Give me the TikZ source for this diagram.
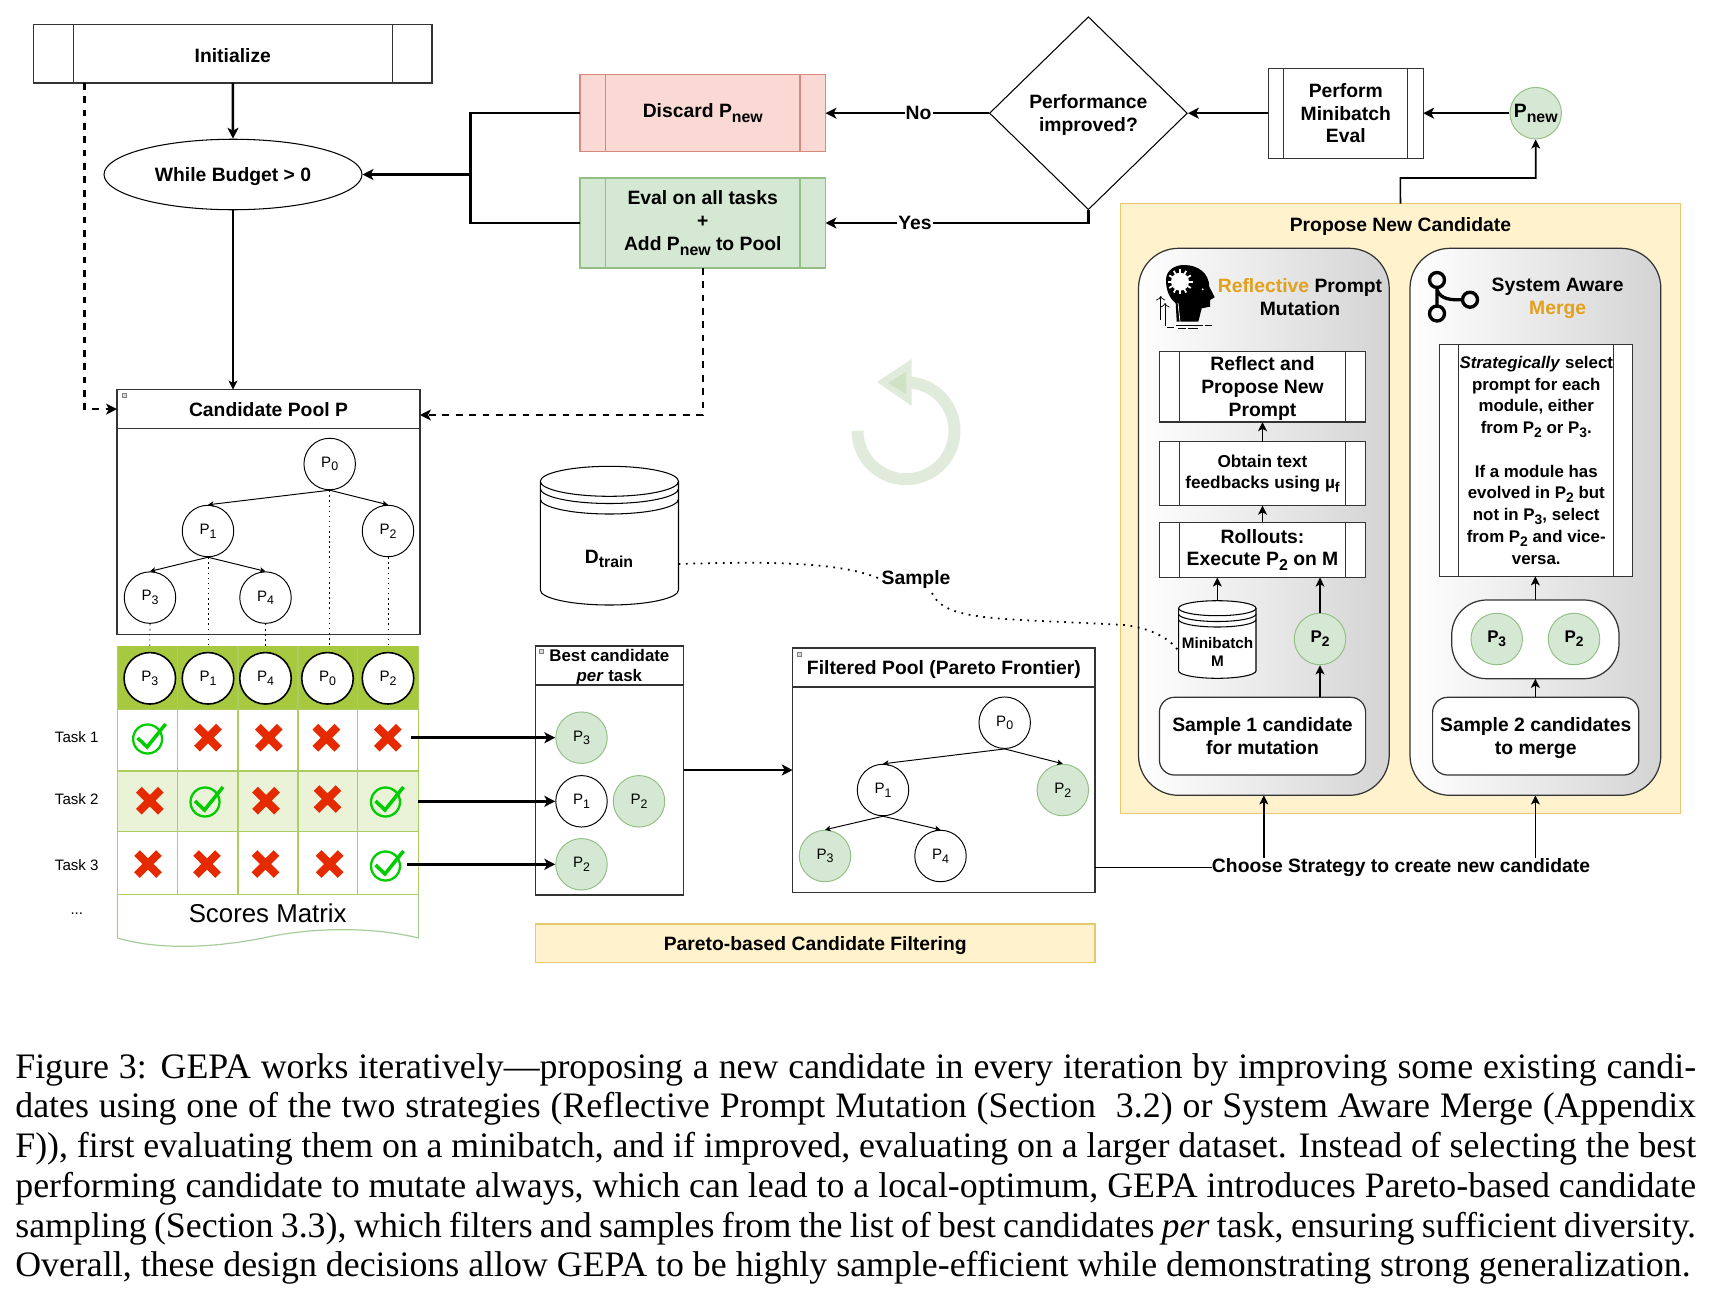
\documentclass[tikz,border=0pt]{standalone}
\usepackage{amsmath}
\usepackage{xcolor}
\usepackage{fontspec}
\setmainfont{Liberation Serif}
\setsansfont{Liberation Sans}
\usepackage{tikz}
\usetikzlibrary{shapes.geometric}
\usetikzlibrary{arrows.meta}
\usetikzlibrary{shapes}

\definecolor{redfill}{HTML}{FAD9D5}
\definecolor{redline}{HTML}{D98880}
\definecolor{greenfill}{HTML}{D5E8D4}
\definecolor{greenline}{HTML}{93BF85}
\definecolor{yellowfill}{HTML}{FFF2CC}
\definecolor{yellowline}{HTML}{E8C76E}
\definecolor{matrixhead}{HTML}{A6C93F}
\definecolor{matrixline}{HTML}{ABCD62}
\definecolor{matrixrow}{HTML}{EAF2D8}
\definecolor{crossred}{HTML}{E62A00}
\definecolor{checkgreen}{HTML}{00CC00}
\definecolor{orangeword}{HTML}{E3A01B}
\definecolor{loopgreen}{HTML}{E1EBDC}
\definecolor{loopdark}{HTML}{CFE2C4}
\definecolor{boxline}{HTML}{333333}

\newcommand{\boldfont}{\sffamily\bfseries\fontsize{11}{13}\selectfont}
\newcommand{\midfont}{\sffamily\bfseries\fontsize{9.6}{12.4}\selectfont}
\newcommand{\plainfont}{\sffamily\fontsize{8.6}{10}\selectfont}
\newcommand{\subs}[1]{\raisebox{-0.45ex}{\scalebox{0.82}{#1}}}

\tikzset{
    box/.style 2 args = {rectangle, minimum width = #1*0.02cm, minimum height = #2*0.02cm,
        inner sep = 0pt, outer sep = 0pt, align = center, font = \boldfont},
    framed/.style = {draw = boxline, line width = 0.7pt},
    procbox/.style 2 args = {draw = #2, line width = 0.7pt, path picture = {
        \draw[#2, line width = 0.6pt]
            ([xshift = #1*0.02cm]path picture bounding box.north west)
            -- ([xshift = #1*0.02cm]path picture bounding box.south west)
            ([xshift = -#1*0.02cm]path picture bounding box.north east)
            -- ([xshift = -#1*0.02cm]path picture bounding box.south east);}},
    cand/.style = {circle, draw = black, fill = white, line width = 0.55pt, minimum size = 1.03cm,
        inner sep = 0pt, font = \plainfont},
    candgreen/.style = {cand, draw = greenline, fill = greenfill},
    candbold/.style = {candgreen, font = \midfont},
    flow/.style = {line width = 1.4pt, -{Stealth[length = 6.2pt, width = 6.2pt, inset = 1.6pt]}},
    plainflow/.style = {line width = 1.4pt},
    thinflow/.style = {line width = 0.9pt, -{Stealth[length = 5.2pt, width = 5pt, inset = 1.3pt]}},
    treeedge/.style = {line width = 0.55pt, -{Stealth[length = 3.2pt, width = 3.2pt, inset = 0.8pt]}},
    dashflow/.style = {line width = 1.4pt, dash pattern = on 3.8pt off 3.8pt,
        -{Stealth[length = 6.2pt, width = 6.2pt, inset = 1.6pt]}},
    droptree/.style = {line width = 0.35pt, dash pattern = on 0.9pt off 2pt},
    dotlink/.style = {line width = 1pt, dash pattern = on 1pt off 3.2pt},
    tinyicon/.style = {rectangle, draw = gray, fill = gray!30, line width = 0.3pt, minimum size = 0.08cm,
        inner sep = 0pt},
    textlabel/.style = {inner sep = 0.5pt, font = \boldfont, fill = white},
    crossmark/.pic = {
        \draw[crossred, line width = 4.6pt] (-11, -11) -- (11, 11) (-11, 11) -- (11, -11);
    },
    checkmark/.pic = {
        \draw[checkgreen, line width = 1.3pt] (0, 0) circle(14.5);
        \draw[checkgreen, line width = 2pt] (-10, -1) -- (-0.5, 8) -- (18, -15);
    },
}

\begin{document}
\begin{tikzpicture}[x = 0.02cm, y = -0.02cm]
        \useasboundingbox (0, 0) rectangle (1710, 1298);

        \draw[loopgreen, line width = 6.8pt] (857.5, 430.7) arc (180:-90:48.5);
        \fill[loopgreen] (877, 382) -- (911.7, 359) -- (911.7, 406) -- cycle;
        \fill[loopdark] (888, 383) -- (906, 372) -- (906, 394) -- cycle;

        \node[box = {398.5}{58.6}, procbox = {40}{boxline}, text height = 10pt] (init) at (232.8, 53.7) {Initialize};
        \node[ellipse, draw = black, line width = 0.6pt, minimum width = 5.16cm, minimum height = 1.41cm,
            inner sep = 0pt, font = \boldfont, text depth = 0pt] (budget) at (233, 174.5) {While Budget > 0};
        \node[box = {245.5}{77}, fill = redfill, procbox = {25.5}{redline}] (discard) at (702.75, 113.2)
            {Discard P\subs{new}};
        \node[box = {245.5}{90}, fill = greenfill, procbox = {25.5}{greenline}] (evalall) at (702.75, 223)
            {Eval on all tasks\\+\\Add P\subs{new} to Pool};
        \node[diamond, draw = black, line width = 0.6pt, minimum width = 3.96cm, minimum height = 3.86cm,
            inner sep = 0pt, aspect = 1, font = \boldfont, align = center, text depth = 0pt] (improved)
            at (1088.4, 113.2) {Performance\\improved?};
        \node[box = {154.7}{90}, procbox = {15.5}{boxline}] (minieval) at (1345.8, 113.2)
            {Perform\\Minibatch\\Eval};
        \node[candgreen, font = \boldfont] (pnew) at (1535.7, 113.2) {P\subs{new}};
        \node[textlabel] (nolabel) at (918.6, 113.2) {No};
        \node[textlabel] (yeslabel) at (915, 223) {Yes};
        \coordinate (joinback) at (470.6, 174.5);

        \node[box = {303}{38.8}, framed] (poolhead) at (268.5, 409.1) {Candidate Pool P};
        \node[box = {303}{205.8}, framed] (poolbody) at (268.5, 531.4) {};
        \node[tinyicon] (poolicon) at (124, 395.6) {};
        \coordinate (initout) at (84.5, 83);
        \coordinate (poolin) at (420, 415);

        \draw[flow] (init.south) -- (budget.north);
        \draw[thinflow] (budget.south) -- (poolhead.north -| budget.south);
        \draw[plainflow] (discard.west) -| (joinback);
        \draw[plainflow] (evalall.west) -| (joinback);
        \draw[flow] (joinback) -- (budget.east);
        \draw[dashflow] (initout) |- (poolhead.west);
        \draw[dashflow] (evalall.south) |- (poolin);
        \draw[plainflow] (improved.west) -- (nolabel);
        \draw[flow] (nolabel) -- (discard.east);
        \draw[plainflow] (improved.south) |- (yeslabel);
        \draw[flow] (yeslabel) -- (evalall.east);
        \draw[flow] (minieval.west) -- (improved.east);
        \draw[flow] (pnew.west) -- (minieval.east);

        \node[cand] (poolp0) at (329.7, 464) {P\subs{0}};
        \node[cand] (poolp1) at (208, 531) {P\subs{1}};
        \node[cand] (poolp2) at (388, 531) {P\subs{2}};
        \node[cand] (poolp3) at (150, 597.6) {P\subs{3}};
        \node[cand] (poolp4) at (265.5, 597.6) {P\subs{4}};
        \draw[treeedge] (poolp0.south) -- (poolp1.north);
        \draw[treeedge] (poolp0.south) -- (poolp2.north);
        \draw[treeedge] (poolp1.south) -- (poolp3.north);
        \draw[treeedge] (poolp1.south) -- (poolp4.north);

        \fill[matrixhead] (117.4, 646) rectangle (418.5, 709.7);
        \fill[matrixrow] (117.4, 771) rectangle (418.5, 831.7);
        \foreach \xcol in {117.4, 177.7, 238, 298, 357.7, 418.5}
            \draw[matrixline, line width = 0.7pt] (\xcol, 646) -- (\xcol, 894.3);
        \foreach \yrow in {709.7, 771, 831.7, 894.3}
            \draw[matrixline, line width = 0.7pt] (117.4, \yrow) -- (418.5, \yrow);

        \node[cand, line width = 0.9pt] (matp3) at (149.8, 678.3) {P\subs{3}};
        \node[cand, line width = 0.9pt] (matp1) at (208, 678.3) {P\subs{1}};
        \node[cand, line width = 0.9pt] (matp4) at (265.5, 678.3) {P\subs{4}};
        \node[cand, line width = 0.9pt] (matp0) at (327.5, 678.3) {P\subs{0}};
        \node[cand, line width = 0.9pt] (matp2) at (388, 678.3) {P\subs{2}};

        \draw[droptree] (poolp3.south) -- (matp3.north |- 0, 646);
        \draw[droptree] (poolp1.south) -- (matp1.north |- 0, 646);
        \draw[droptree] (poolp4.south) -- (matp4.north |- 0, 646);
        \draw[droptree] (poolp0.south) -- (poolp0.south |- 0, 646);
        \draw[droptree] (poolp2.south) -- (matp2.north |- 0, 646);

        \foreach \xpos/\ypos in {208/737.7, 268.8/737.7, 326.4/737.7, 387.8/737.7, 149.8/800.7,
            266/800.7, 327.5/799, 148/864, 207/864, 265.5/864, 329.7/864}
            \pic at (\xpos, \ypos) {crossmark};
        \foreach \xpos/\ypos in {147.6/739, 205/802, 385.5/802, 385.5/866}
            \pic at (\xpos, \ypos) {checkmark};

        \node[font = \plainfont] (task1) at (76.8, 736.7) {Task 1};
        \node[font = \plainfont] (task2) at (76.8, 798.7) {Task 2};
        \node[font = \plainfont] (task3) at (76.8, 865) {Task 3};
        \node[font = \plainfont] (taskmore) at (76.8, 914) {...};

        \draw[greenline!80, line width = 0.7pt] (117.4, 894.3) -- (117.4, 938)
            .. controls (165, 952) and (225, 946) .. (268, 937)
            .. controls (310, 928) and (370, 926) .. (418.5, 938) -- (418.5, 894.3);
        \node[font = \sffamily\fontsize{14.7}{17}\selectfont] (scores) at (267.7, 913.7) {Scores Matrix};

        \node[box = {148.1}{39}, framed, font = \sffamily\bfseries\fontsize{9.6}{11.7}\selectfont, text depth = 0pt]
            (besthead) at (609.4, 665.5) {Best candidate\\\textit{per} task};
        \node[box = {148.1}{210}, framed] (bestbody) at (609.4, 790) {};
        \node[tinyicon] (besticon) at (541.5, 651) {};
        \node[candgreen] (bestp3) at (581.5, 737.7) {P\subs{3}};
        \node[cand] (bestp1) at (581.5, 801.3) {P\subs{1}};
        \node[candgreen] (bestp2a) at (639, 801.3) {P\subs{2}};
        \node[candgreen] (bestp2b) at (581.5, 864.3) {P\subs{2}};

        \node[box = {302.3}{39}, framed, text depth = 0pt] (filthead) at (943.85, 667.5)
            {Filtered Pool (Pareto Frontier)};
        \node[box = {302.3}{205.7}, framed] (filtbody) at (943.85, 789.85) {};
        \node[tinyicon] (filticon) at (799, 654) {};
        \node[cand] (filtp0) at (1004.7, 722.7) {P\subs{0}};
        \node[cand] (filtp1) at (883, 790) {P\subs{1}};
        \node[candgreen] (filtp2) at (1062.8, 790) {P\subs{2}};
        \node[candgreen] (filtp3) at (825, 856) {P\subs{3}};
        \node[cand] (filtp4) at (940.5, 856) {P\subs{4}};
        \draw[treeedge] (filtp0.south) -- (filtp1.north);
        \draw[treeedge] (filtp0.south) -- (filtp2.north);
        \draw[treeedge] (filtp1.south) -- (filtp3.north);
        \draw[treeedge] (filtp1.south) -- (filtp4.north);

        \coordinate (row1out) at (411, 737.7);
        \coordinate (row2out) at (418, 801.3);
        \coordinate (row3out) at (407, 864.3);
        \coordinate (bestout) at (683.5, 770);
        \draw[flow] (row1out) -- (bestp3.west);
        \draw[flow] (row2out) -- (bestp1.west);
        \draw[flow] (row3out) -- (bestp2b.west);
        \draw[flow] (bestout) -- (bestout -| filtbody.west);

        \node[box = {559.6}{38.7}, draw = yellowline, fill = yellowfill, line width = 0.7pt, text depth = 0pt]
            (paretoband) at (815.2, 943.4) {Pareto-based Candidate Filtering};

        \node[box = {138.2}{138.7}] (dtrain) at (609.4, 535.6) {};
        \draw[black, line width = 0.6pt] (540.3, 481.3) arc (180:360:69.1 and 15) -- (678.5, 590)
            arc (0:180:69.1 and 15) -- cycle
            (540.3, 481.3) arc (180:0:69.1 and 15)
            (540.3, 488.5) arc (180:0:69.1 and 15)
            (540.3, 499) arc (180:0:69.1 and 15);
        \node[font = \boldfont] (dtrainlabel) at (609, 559) {D\subs{train}};

        \node[box = {560.1}{610}, draw = yellowline, fill = yellowfill, line width = 0.7pt] (propose)
            at (1400.45, 508.7) {};
        \node[font = \boldfont] (proposetitle) at (1400.4, 226.5) {Propose New Candidate};
        \coordinate (pnewturn) at (1400.4, 178);
        \draw[thinflow] (propose.north) -- (pnewturn) -| (pnew.south);

        \node[box = {250.7}{547}, draw = boxline, line width = 0.7pt, rounded corners = 0.8cm,
            left color = white, right color = black!17] (mutpanel) at (1263.85, 521.8) {};
        \node[box = {250.8}{547}, draw = boxline, line width = 0.7pt, rounded corners = 0.8cm,
            left color = white, right color = black!17] (mergepanel) at (1535.4, 521.8) {};

        \fill[black] (1176.7, 321.7) -- (1175.7, 303.3) .. controls (1168, 297) and (1166, 288) .. (1166, 280)
            .. controls (1166, 270) and (1175, 265) .. (1184, 265)
            .. controls (1198, 265) and (1209, 273) .. (1209.3, 286.7)
            -- (1214.7, 297.3) -- (1210, 300) -- (1210, 306.7) -- (1201.7, 308.3) -- (1198.3, 321.7) -- cycle;
        \fill[white] (1180, 281.7) circle(9);
        \foreach \angle in {0, 30, ..., 330}
            \draw[white, line width = 1pt] (1180, 281.7) -- +(\angle:12.5);
        \fill[white] (1202.7, 289.3) circle(1);
        \draw[white, line width = 0.4pt] (1178, 303) -- (1180, 322);
        \draw[black, line width = 0.4pt, ->] (1160.7, 320) -- (1160.7, 296);
        \draw[black, line width = 0.4pt, ->] (1165, 326) -- (1165, 303);
        \draw[black, line width = 0.5pt] (1167, 327) -- (1174, 327) (1176, 325) -- (1203, 325)
            (1178, 328) -- (1186, 328) (1188, 328) -- (1198, 328) (1205, 325) -- (1212, 325);

        \node[font = \boldfont, align = center, inner sep = 0pt] (mutlabel) at (1300, 297.5)
            {\textcolor{orangeword}{Reflective} Prompt\\Mutation};
        \node[font = \boldfont, align = center, inner sep = 0pt] (mergelabel) at (1557.6, 298.5)
            {System Aware\\\textcolor{orangeword}{Merge}};

        \draw[black, line width = 1.9pt] (1437, 280) circle(7.5) (1470, 299.7) circle(7.5) (1437, 313.5) circle(7.5);
        \draw[black, line width = 1.9pt] (1437, 287.5) -- (1437, 306) (1437, 290)
            .. controls (1441, 300) and (1452, 300) .. (1462.5, 299.7);

        \node[box = {206.2}{70.6}, fill = white, procbox = {20.3}{boxline}, text depth = 0pt] (reflect)
            at (1262.5, 386.7) {Reflect and\\Propose New\\Prompt};
        \node[box = {206.2}{64}, fill = white, procbox = {20.3}{boxline},
            font = \sffamily\bfseries\fontsize{9.8}{12}\selectfont] (textfb) at (1262.5, 473.5)
            {Obtain text\\feedbacks using µ\subs{f}};
        \node[box = {206.2}{55.1}, fill = white, procbox = {20.3}{boxline}] (rollouts) at (1262.5, 549.85)
            {Rollouts:\\Execute P\subs{2} on M};
        \node[box = {193.1}{231.9}, fill = white, procbox = {19.2}{boxline}, font = \midfont] (strategy)
            at (1536.25, 460.25)
            {\textit{Strategically} select\\prompt for each\\module, either\\from P\subs{2} or P\subs{3}.\\
            ~\\If a module has\\evolved in P\subs{2} but\\not in P\subs{3}, select\\
            from P\subs{2} and vice-\\versa.};

        \node[box = {77.4}{77.6}] (minibatch) at (1217.3, 639.5) {};
        \draw[black, line width = 0.6pt, fill = white] (1178.6, 608.2) arc (180:360:38.7 and 7.5) -- (1256, 670.8)
            arc (0:180:38.7 and 7.5) -- cycle;
        \draw[black, line width = 0.6pt] (1178.6, 608.2) arc (180:0:38.7 and 7.5)
            (1178.6, 614) arc (180:0:38.7 and 7.5)
            (1178.6, 619.5) arc (180:0:38.7 and 7.5);
        \node[font = \sffamily\bfseries\fontsize{8.7}{10.2}\selectfont, align = center] (minilabel)
            at (1217.5, 651.7) {Minibatch\\M};

        \node[candbold] (mutp2) at (1320, 639) {P\subs{2}};
        \node[box = {167.3}{78.7}, draw = boxline, fill = white, line width = 0.7pt, rounded corners = 0.7cm]
            (mergepair) at (1535.35, 639.35) {};
        \node[candbold] (mergep3) at (1496.7, 639) {P\subs{3}};
        \node[candbold] (mergep2) at (1574, 639) {P\subs{2}};
        \node[box = {206.2}{77.7}, framed, fill = white, rounded corners = 0.3cm, text depth = 0pt] (sampleone)
            at (1262.5, 736.15) {Sample 1 candidate\\for mutation};
        \node[box = {206.2}{77.7}, framed, fill = white, rounded corners = 0.3cm, text depth = 0pt] (sampletwo)
            at (1535.7, 736.15) {Sample 2 candidates\\to merge};

        \draw[thinflow] (textfb.north) -- (reflect.south);
        \draw[thinflow] (rollouts.north) -- (textfb.south);
        \draw[thinflow] (minibatch.north) -- (minibatch.north |- rollouts.south);
        \draw[thinflow] (mutp2.north) -- (mutp2.north |- rollouts.south);
        \draw[thinflow] (sampleone.north -| mutp2.south) -- (mutp2.south);
        \draw[thinflow] (mergepair.north) -- (strategy.south -| mergepair.north);
        \draw[thinflow] (sampletwo.north -| mergepair.south) -- (mergepair.south);

        \node[font = \boldfont, inner sep = 0pt] (choose) at (1401, 867.5) {Choose Strategy to create new candidate};
        \draw[plainflow, line width = 1.1pt] (filtbody.east |- choose.west) -- (choose.west);
        \draw[thinflow] (mutpanel.south |- choose.north) -- (mutpanel.south);
        \draw[thinflow] (mergepanel.south |- choose.north) -- (mergepanel.south);

        \node[font = \boldfont, inner sep = 0pt] (sample) at (916, 579.5) {Sample};
        \coordinate (dtrainout) at (678.5, 564);
        \coordinate (sampleout) at (932, 593);
        \coordinate (miniin) at (1179, 651.7);
        \draw[dotlink] (dtrainout) .. controls (750, 562) and (840, 560) .. (sample.west);
        \draw[dotlink] (sampleout) .. controls (945, 622) and (1000, 618) .. (1124, 625)
            .. controls (1150, 628) and (1170, 638) .. (miniin);

        \node[anchor = north west, inner sep = 0pt, text width = 33.62cm, align = justify,
            font = \rmfamily\fontsize{20.4}{22.6}\selectfont] (caption) at (15, 1053)
            {Figure 3: GEPA works iteratively---proposing a new candidate in every iteration by improving some existing candi-\linebreak
            dates using one of the two strategies (Reflective Prompt Mutation (Section~~3.2) or System Aware Merge (Appendix\linebreak
            F)), first evaluating them on a minibatch, and if improved, evaluating on a larger dataset. Instead of selecting the best\linebreak
            performing candidate to mutate always, which can lead to a local-optimum, GEPA introduces Pareto-based candidate\linebreak
            sampling (Section 3.3), which filters and samples from the list of best candidates \textit{per} task, ensuring sufficient diversity.\linebreak
            Overall, these design decisions allow GEPA to be highly sample-efficient while demonstrating strong generalization.};
    \end{tikzpicture}
\end{document}
